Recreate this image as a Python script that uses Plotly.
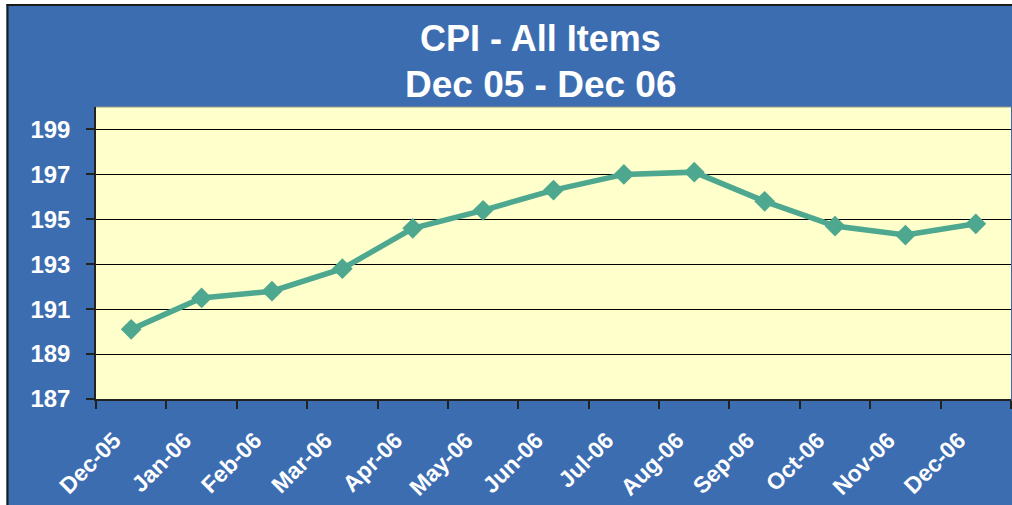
import plotly.graph_objs as go

months = ["Dec-05", "Jan-06", "Feb-06", "Mar-06", "Apr-06", "May-06", "Jun-06",
          "Jul-06", "Aug-06", "Sep-06", "Oct-06", "Nov-06", "Dec-06"]
cpi = [190.1, 191.5, 191.8, 192.8, 194.6, 195.4, 196.3,
       197.0, 197.1, 195.8, 194.7, 194.3, 194.8]
y_ticks = [187, 189, 191, 193, 195, 197, 199]

blue = "#3D6DB1"
font_family = "Liberation Sans, Arial, sans-serif"

# plot area in pixels: x 96..1011, y 107..399
W, H = 1012, 505
L, R, T, B = 96, 1, 107, 106
pw = W - L - R
ph = H - T - B

def px_x(p):
    return (p - L) / pw

def px_y(p):
    return (H - B - p) / ph

fig = go.Figure()
fig.add_trace(go.Scatter(
    x=months, y=cpi, mode="lines+markers",
    line={"color": "#4EA88F", "width": 5.5},
    marker={"symbol": "diamond", "size": 16, "color": "#4EA88F"},
    hoverinfo="x+y",
))

fig.update_layout(
    width=W, height=H,
    margin={"l": L, "r": R, "t": T, "b": B, "pad": 0},
    paper_bgcolor=blue, plot_bgcolor="#FFFFCC",
    showlegend=False,
    font={"family": font_family, "color": "white"},
    shapes=[
        # white strips + dark frame on the left / top edge
        dict(type="rect", xref="paper", yref="paper",
             x0=px_x(-5), x1=px_x(6.5), y0=px_y(-5), y1=px_y(H + 5),
             fillcolor="white", line={"width": 0}, layer="above"),
        dict(type="rect", xref="paper", yref="paper",
             x0=px_x(-5), x1=px_x(W + 5), y0=px_y(-5), y1=px_y(4),
             fillcolor="white", line={"width": 0}, layer="above"),
        dict(type="line", xref="paper", yref="paper",
             x0=px_x(7.5), x1=px_x(7.5), y0=px_y(4), y1=px_y(H + 5),
             line={"color": "#1a1a1a", "width": 2}),
        dict(type="line", xref="paper", yref="paper",
             x0=px_x(6.5), x1=px_x(W + 5), y0=px_y(5), y1=px_y(5),
             line={"color": "#1a1a1a", "width": 2}),
        dict(type="line", xref="paper", yref="paper",
             x0=0, x1=1, y0=1, y1=1,
             line={"color": "#9a9a80", "width": 1}),
    ],
    annotations=[
        dict(text="CPI - All Items", xref="paper", yref="paper",
             x=px_x(540), y=px_y(38.5), showarrow=False,
             font={"size": 36, "weight": "bold", "color": "white"},
             xanchor="center", yanchor="middle"),
        dict(text="Dec 05 - Dec 06", xref="paper", yref="paper",
             x=px_x(541), y=px_y(85), showarrow=False,
             font={"size": 37, "weight": "bold", "color": "white"},
             xanchor="center", yanchor="middle"),
    ],
)

fig.update_xaxes(
    type="category", tickson="boundaries",
    range=[-0.5, len(months) - 0.5],
    showgrid=False, showline=True, linecolor="#222222", linewidth=1.5,
    ticks="outside", ticklen=8, tickcolor="#222222", tickwidth=1.5,
    tickangle=-45, ticklabelstandoff=17, ticklabelshift=-17,
    tickfont={"size": 23, "weight": "bold", "color": "white", "family": font_family},
)
fig.update_yaxes(
    range=[187, 200], tickmode="array", tickvals=y_ticks,
    showgrid=True, gridcolor="black", gridwidth=1,
    showline=True, linecolor="#222222", linewidth=1.5,
    ticks="outside", ticklen=8, tickcolor="#222222", tickwidth=1.5,
    ticklabelstandoff=11, zeroline=False,
    tickfont={"size": 24, "weight": "bold", "color": "white", "family": font_family},
)

fig.write_html("out.html", config={"displayModeBar": False},
               post_script="document.body.style.margin='0';")
